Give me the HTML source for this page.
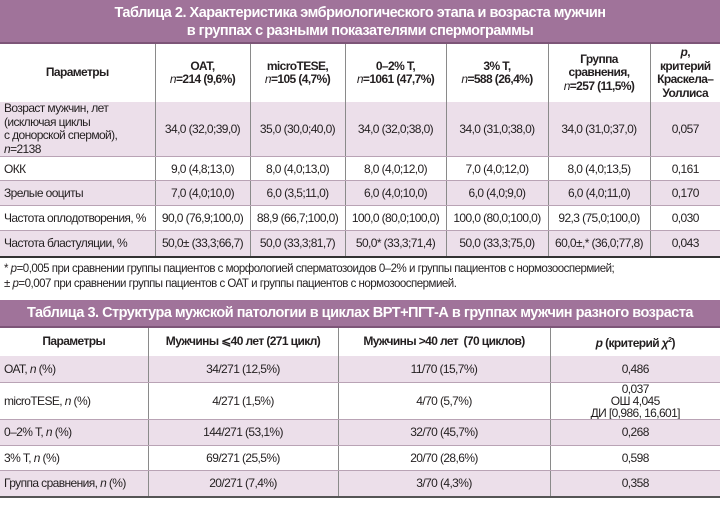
<!DOCTYPE html>
<html><head><meta charset="utf-8"><style>
*{margin:0;padding:0;box-sizing:border-box}
body{width:720px;height:506px;background:#fff;font-family:"Liberation Sans","Noto Sans CJK SC",sans-serif;color:#231f20;position:relative;overflow:hidden}
.title{position:absolute;left:0;width:720px;background:#a0739a;color:#fff;font-weight:bold;text-align:center;font-size:14.5px;letter-spacing:-0.5px}
table{position:absolute;left:0;width:720px;border-collapse:collapse;font-size:12px;letter-spacing:-0.6px;table-layout:fixed}
td{border-left:1px solid #8a8a8a;text-align:center;vertical-align:middle;padding:0 1px;white-space:nowrap;overflow:hidden}
td:first-child{border-left:none;text-align:left;padding-left:4px}
tr.p td{background:#ecdfea}
tr td{border-bottom:1px solid #b9a3b5}
th{font-weight:bold;border-left:1px solid #8a8a8a;font-size:12px;line-height:13.5px;white-space:nowrap}
th:first-child{border-left:none}
.note{position:absolute;left:4px;top:262px;font-size:11.5px;line-height:15px;letter-spacing:-0.5px}
</style></head><body>
<div class="title" style="top:0;height:44px;padding-top:4px;line-height:18px;border-bottom:2px solid #7d5578">Таблица 2. Характеристика эмбриологического этапа и возраста мужчин<br>в группах с разными показателями спермограммы</div>
<table style="top:44px">
<colgroup><col style="width:155px"><col style="width:95px"><col style="width:95px"><col style="width:101px"><col style="width:102px"><col style="width:102px"><col style="width:70px"></colgroup>
<tr style="height:58px"><th>Параметры</th><th>ОАТ,<br><i style="font-weight:normal">n</i>=214 (9,6%)</th><th>microTESE,<br><i style="font-weight:normal">n</i>=105 (4,7%)</th><th>0–2% Т,<br><i style="font-weight:normal">n</i>=1061 (47,7%)</th><th>3% Т,<br><i style="font-weight:normal">n</i>=588 (26,4%)</th><th>Группа<br>сравнения,<br><i style="font-weight:normal">n</i>=257 (11,5%)</th><th><i>p</i>,<br>критерий<br>Краскела–<br>Уоллиса</th></tr>
<tr class="p" style="height:54px"><td style="line-height:13.5px">Возраст мужчин, лет<br>(исключая циклы<br>с донорской спермой),<br><i>n</i>=2138</td><td>34,0 (32,0;39,0)</td><td>35,0 (30,0;40,0)</td><td>34,0 (32,0;38,0)</td><td>34,0 (31,0;38,0)</td><td>34,0 (31,0;37,0)</td><td>0,057</td></tr>
<tr style="height:24px"><td>ОКК</td><td>9,0 (4,8;13,0)</td><td>8,0 (4,0;13,0)</td><td>8,0 (4,0;12,0)</td><td>7,0 (4,0;12,0)</td><td>8,0 (4,0;13,5)</td><td>0,161</td></tr>
<tr class="p" style="height:25px"><td>Зрелые ооциты</td><td>7,0 (4,0;10,0)</td><td>6,0 (3,5;11,0)</td><td>6,0 (4,0;10,0)</td><td>6,0 (4,0;9,0)</td><td>6,0 (4,0;11,0)</td><td>0,170</td></tr>
<tr style="height:25px"><td>Частота оплодотворения, %</td><td>90,0 (76,9;100,0)</td><td>88,9 (66,7;100,0)</td><td>100,0 (80,0;100,0)</td><td>100,0 (80,0;100,0)</td><td>92,3 (75,0;100,0)</td><td>0,030</td></tr>
<tr class="p" style="height:26px"><td style="border-bottom:2px solid #333">Частота бластуляции, %</td><td style="border-bottom:2px solid #333">50,0± (33,3;66,7)</td><td style="border-bottom:2px solid #333">50,0 (33,3;81,7)</td><td style="border-bottom:2px solid #333">50,0* (33,3;71,4)</td><td style="border-bottom:2px solid #333">50,0 (33,3;75,0)</td><td style="border-bottom:2px solid #333">60,0±,* (36,0;77,8)</td><td style="border-bottom:2px solid #333">0,043</td></tr>
</table>
<div class="note">* <i>p</i>=0,005 при сравнении группы пациентов с морфологией сперматозоидов 0–2% и группы пациентов с нормозооспермией;<br>± <i>p</i>=0,007 при сравнении группы пациентов с ОАТ и группы пациентов с нормозооспермией.</div>
<div class="title" style="top:300px;height:28px;line-height:26px;border-bottom:2px solid #7d5578">Таблица 3. Структура мужской патологии в циклах ВРТ+ПГТ-А в группах мужчин разного возраста</div>
<table style="top:328px">
<colgroup><col style="width:148px"><col style="width:190px"><col style="width:212px"><col style="width:170px"></colgroup>
<tr style="height:28px"><th>Параметры</th><th>Мужчины ⩽40 лет (271 цикл)</th><th>Мужчины &gt;40 лет &nbsp;(70 циклов)</th><th><i>p</i> (критерий <i>χ</i><sup style="font-size:7px">2</sup>)</th></tr>
<tr class="p" style="height:26px"><td>ОАТ, <i>n</i> (%)</td><td>34/271 (12,5%)</td><td>11/70 (15,7%)</td><td>0,486</td></tr>
<tr style="height:36px"><td>microTESE, <i>n</i> (%)</td><td>4/271 (1,5%)</td><td>4/70 (5,7%)</td><td style="line-height:12px">0,037<br>ОШ 4,045<br>ДИ [0,986, 16,601]</td></tr>
<tr class="p" style="height:26px"><td>0–2% Т, <i>n</i> (%)</td><td>144/271 (53,1%)</td><td>32/70 (45,7%)</td><td>0,268</td></tr>
<tr style="height:25px"><td>3% Т, <i>n</i> (%)</td><td>69/271 (25,5%)</td><td>20/70 (28,6%)</td><td>0,598</td></tr>
<tr class="p" style="height:27px"><td style="border-bottom:2px solid #555">Группа сравнения, <i>n</i> (%)</td><td style="border-bottom:2px solid #555">20/271 (7,4%)</td><td style="border-bottom:2px solid #555">3/70 (4,3%)</td><td style="border-bottom:2px solid #555">0,358</td></tr>
</table>
</body></html>
